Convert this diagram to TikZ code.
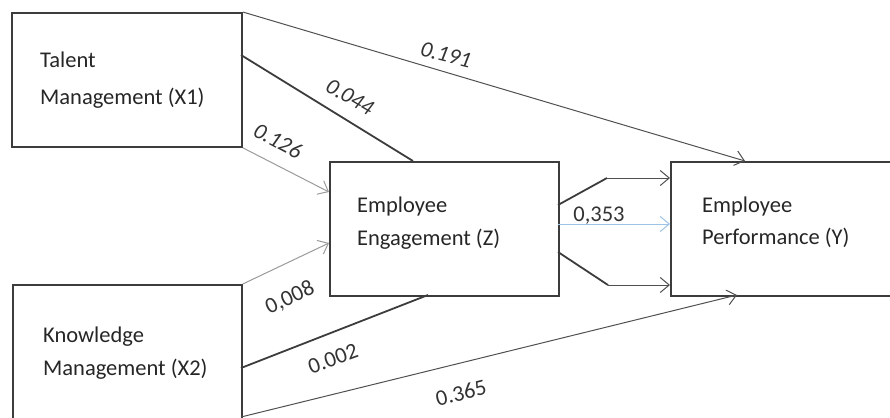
\documentclass[tikz,border=0pt]{standalone}
\usepackage{fontspec}
\setmainfont{Carlito}
\usetikzlibrary{arrows.meta,calc}
\definecolor{boxc}{HTML}{3C3C3C}
\definecolor{thinc}{HTML}{505050}
\definecolor{grayc}{HTML}{9A9A9A}
\definecolor{bluec}{HTML}{9DC3E6}
\begin{document}
\begin{tikzpicture}[x=1pt,y=-1pt,
  box/.style={draw=boxc,line width=1.8pt,anchor=north west,inner sep=0pt},
  lbl/.style={anchor=base west,inner sep=0pt,font=\fontsize{22.5}{27}\selectfont,text=black!85},
  num/.style={inner sep=0pt,font=\fontsize{22.5}{27}\selectfont,text=black!80},
  tip/.style={-{Straight Barb[length=9pt,width=15pt]}},
  thick line/.style={draw=boxc,line width=1.8pt},
  thin line/.style={draw=thinc,line width=1pt},
  gray line/.style={draw=grayc,line width=1pt},
  blue line/.style={draw=bluec,line width=1pt}]
\useasboundingbox (0,0) rectangle (890,417);
\clip (0,0) rectangle (890,417);
% boxes
\node[box,minimum width=230pt,minimum height=134pt] (TM) at (11,12) {};
\node[box,minimum width=229pt,minimum height=160pt] (KM) at (12,284) {};
\node[box,minimum width=229pt,minimum height=134pt] (EE) at (329,161) {};
\node[box,minimum width=240pt,minimum height=134pt] (EP) at (670,161) {};
% box texts
\node[lbl] (tm1) at (40,68) {Talent};
\node[lbl] (tm2) at (40,104) {Management (X1)};
\node[lbl] (km1) at (43,342) {Knowledge};
\node[lbl] (km2) at (43,375) {Management (X2)};
\node[lbl] (ee1) at (357,212) {Employee};
\node[lbl] (ee2) at (357,245) {Engagement (Z)};
\node[lbl] (ep1) at (702,212) {Employee};
\node[lbl] (ep2) at (702,244) {Performance (Y)};
% connector points
\coordinate (tmA) at (241,55);
\coordinate (eeTop) at (413,161);
\coordinate (eeL1) at (329,192);
\coordinate (eeL2) at (329,243);
\coordinate (eeBot) at (428,295);
\coordinate (kmA) at (241,368);
\coordinate (kmB) at (241,417);
\coordinate (epTop) at (745,161);
\coordinate (epBot) at (737,295);
\coordinate (eeR1) at (558,205);
\coordinate (eeR2) at (558,224);
\coordinate (eeR3) at (558,252);
\coordinate (k1) at (607,178);
\coordinate (k3) at (608,285);
\coordinate (epL1) at (670,178);
\coordinate (epL2) at (670,224);
\coordinate (epL3) at (670,285);
% connectors
\draw[thin line,tip] (TM.north east) -- (epTop);
\draw[thick line] (tmA) -- (eeTop);
\draw[gray line,tip] (TM.south east) -- (eeL1);
\draw[gray line,tip] (KM.north east) -- (eeL2);
\draw[thick line] (kmA) -- (eeBot);
\draw[thin line,tip] (kmB) -- (epBot);
\draw[thick line] (eeR1) -- (k1);
\draw[thin line,tip] (k1) -- (epL1);
\draw[blue line,tip] (eeR2) -- (epL2);
\draw[thick line] (eeR3) -- (k3);
\draw[thin line,tip] (k3) -- (epL3);
% numbers
\node[num,rotate=-14] (n191) at (446,55) {\itshape 0.191};
\node[num,rotate=-30] (n044) at (350,97) {\itshape 0.044};
\node[num,rotate=-28] (n126) at (278,141) {\itshape 0.126};
\node[num,rotate=25] (n008) at (290,298) {0,008};
\node[num,rotate=20] (n002) at (333,359) {0.002};
\node[num,rotate=14] (n365) at (461,393) {0.365};
\node[num] (n353) at (599,216) {0,353};
\end{tikzpicture}
\end{document}
